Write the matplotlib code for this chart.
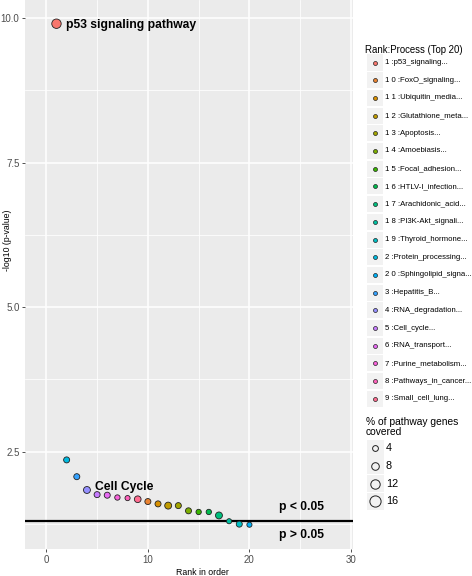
"""
Top 20 enriched pathways, ranked by -log10(p)
"""
import numpy as np
import matplotlib
matplotlib.use("Agg")
import matplotlib.pyplot as plt
from matplotlib.patches import Rectangle

plt.rcParams['font.family'] = ['Liberation Sans', 'DejaVu Sans']

#### Data
ranks = list(range(1, 21))
neglog_p = [9.90, 2.36, 2.07, 1.84, 1.76, 1.75, 1.71, 1.70, 1.68, 1.64,
            1.60, 1.57, 1.57, 1.48, 1.46, 1.46, 1.40, 1.30, 1.25, 1.24]
pct_cov = [12, 4.5, 4.5, 6.5, 4.5, 4.5, 3, 2.5, 6, 4.5,
           4.5, 6.5, 4.5, 4.5, 3, 3, 6.5, 2.5, 4.5, 2.5]

# legend order (factor levels sorted as strings)
legend_ranks = [1, 10, 11, 12, 13, 14, 15, 16, 17, 18, 19, 2, 20, 3, 4, 5, 6, 7, 8, 9]
legend_labels = ["1 :p53_signaling...", "1 0 :FoxO_signaling...", "1 1 :Ubiquitin_media...",
                 "1 2 :Glutathione_meta...", "1 3 :Apoptosis...", "1 4 :Amoebiasis...",
                 "1 5 :Focal_adhesion...", "1 6 :HTLV-I_infection...", "1 7 :Arachidonic_acid...",
                 "1 8 :PI3K-Akt_signali...", "1 9 :Thyroid_hormone...", "2 :Protein_processing...",
                 "2 0 :Sphingolipid_signa...", "3 :Hepatitis_B...", "4 :RNA_degradation...",
                 "5 :Cell_cycle...", "6 :RNA_transport...", "7 :Purine_metabolism...",
                 "8 :Pathways_in_cancer...", "9 :Small_cell_lung..."]
hue_colors = ["#F8766D", "#EA8331", "#D89000", "#C09B00", "#A3A500", "#7CAE00", "#39B600",
              "#00BB4E", "#00BF7D", "#00C1A3", "#00BFC4", "#00BAE0", "#00B0F6", "#35A2FF",
              "#9590FF", "#C77CFF", "#E76BF3", "#FA62DB", "#FF62BC", "#FF6C90"]
size_breaks = [4, 8, 12, 16]
p_cut = -np.log10(0.05)

#### Helpers
DPI = 100
PX = 72.0 / DPI  # points per pixel

def diam_pt(pct):
    # marker diameter in points for a coverage percentage
    return (4 + 0.45 * np.asarray(pct, dtype=float)) * PX

point_colors = [hue_colors[legend_ranks.index(r)] for r in ranks]

#### Plot
fig = plt.figure(figsize=(4.72, 5.76), dpi=DPI)
ax = fig.add_axes([25 / 472, 27 / 576, 328 / 472, 549 / 576])
ax.set_facecolor('#EBEBEB')
for s in ax.spines.values():
    s.set_visible(False)

ax.set_xlim(-2.1, 30.2)
ax.set_ylim(0.82, 10.31)
ax.set_xticks([0, 10, 20, 30])
ax.set_xticks([5, 15, 25], minor=True)
ax.set_yticks([2.5, 5.0, 7.5, 10.0])
ax.set_yticklabels(["2.5", "5.0", "7.5", "10.0"])
ax.set_yticks([1.25, 3.75, 6.25, 8.75], minor=True)
ax.grid(which='major', color='white', lw=1.1)
ax.grid(which='minor', color='white', lw=0.55)
ax.set_axisbelow(True)
ax.tick_params(which='major', length=2.5, width=0.6, color='#333333',
               labelsize=7.0, labelcolor='#4D4D4D', pad=1.5)
ax.tick_params(which='minor', length=0)

ax.axhline(p_cut, color='black', lw=1.6, zorder=2)

ax.scatter(ranks, neglog_p, s=diam_pt(pct_cov) ** 2, c=point_colors,
           edgecolors='#222222', linewidths=0.6, zorder=3)

ax.text(1.9, 9.88, "p53 signaling pathway", fontsize=8.7, fontweight='bold',
        ha='left', va='center', zorder=4)
ax.text(4.75, 1.90, "Cell Cycle", fontsize=8.7, fontweight='bold',
        ha='left', va='center', zorder=4)
ax.text(25.1, 1.55, "p < 0.05", fontsize=8.7, fontweight='bold',
        ha='center', va='center', zorder=4)
ax.text(25.1, 1.07, "p > 0.05", fontsize=8.7, fontweight='bold',
        ha='center', va='center', zorder=4)

ax.set_xlabel("Rank in order", fontsize=6.3)
ax.set_ylabel("-log10 (p-value)", fontsize=6.3)
ax.xaxis.set_label_coords((202 - 25) / 328, -19 / 549)
ax.yaxis.set_label_coords(-13 / 328, (549 - 240) / 549)

#### Legends (drawn in pixel coords of the figure)
W, H = 472.0, 576.0

def fx(x):
    return x / W

def fy(y):
    return 1 - y / H

fig.text(fx(365), fy(50), "Rank:Process (Top 20)", fontsize=6.9, va='center', ha='left')
for i, (lab, col) in enumerate(zip(legend_labels, hue_colors)):
    yc = 62.5 + i * 17.7
    fig.patches.append(Rectangle((fx(367), fy(yc + 8)), 16 / W, 16 / H,
                                 transform=fig.transFigure, facecolor='#F2F2F2',
                                 edgecolor='none'))
    fig.lines.append(plt.Line2D([fx(375)], [fy(yc)], transform=fig.transFigure,
                                marker='o', ms=4 * PX, mfc=col, mec='#222222', mew=0.5))
    fig.text(fx(385), fy(yc), lab, fontsize=5.6, va='center', ha='left')

fig.text(fx(366), fy(427), "% of pathway genes\ncovered", fontsize=7.4,
         va='center', ha='left', linespacing=1.0)
for i, b in enumerate(size_breaks):
    yc = 448 + i * 17.8
    fig.patches.append(Rectangle((fx(367), fy(yc + 8.5)), 17 / W, 17 / H,
                                 transform=fig.transFigure, facecolor='#F2F2F2',
                                 edgecolor='none'))
    fig.lines.append(plt.Line2D([fx(375)], [fy(yc)], transform=fig.transFigure,
                                marker='o', ms=float(diam_pt(b)), mfc='none',
                                mec='#222222', mew=0.7))
    fig.text(fx(386), fy(yc), str(b), fontsize=7.8, va='center', ha='left')

fig.savefig("out.png", dpi=DPI)
